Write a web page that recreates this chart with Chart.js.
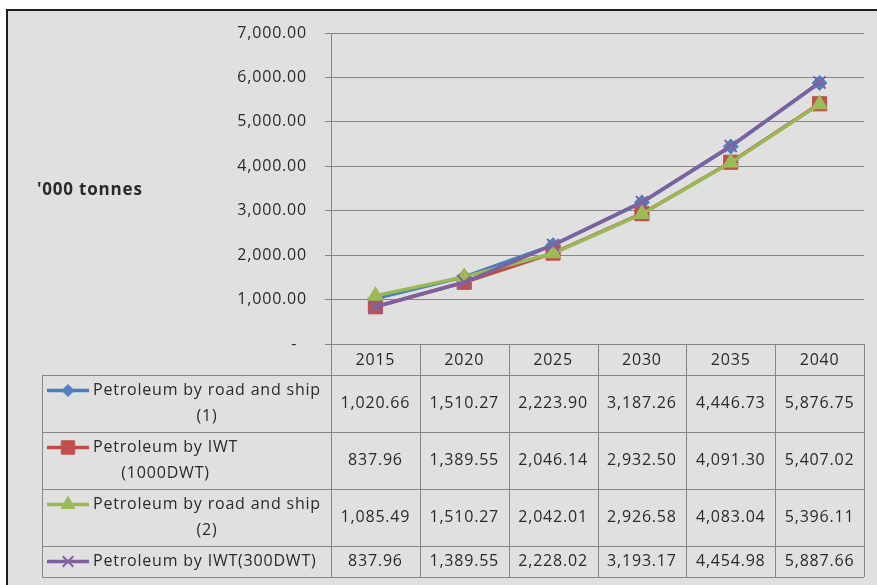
<!DOCTYPE html>
<html>
<head>
<meta charset="utf-8">
<script src="https://cdn.jsdelivr.net/npm/chart.js@4/dist/chart.umd.min.js"></script>
<style>
html,body{margin:0;padding:0;background:#fff;}
#wrap{width:877px;height:585px;position:relative;}
</style>
</head>
<body>
<div id="wrap"><canvas id="c" width="877" height="585"></canvas></div>
<script>
// ---- data ----
const years = ['2015', '2020', '2025', '2030', '2035', '2040'];
const roadShip1 = [1020.66, 1510.27, 2223.90, 3187.26, 4446.73, 5876.75];
const iwt1000   = [837.96, 1389.55, 2046.14, 2932.50, 4091.30, 5407.02];
const roadShip2 = [1085.49, 1510.27, 2042.01, 2926.58, 4083.04, 5396.11];
const iwt300    = [837.96, 1389.55, 2228.02, 3193.17, 4454.98, 5887.66];
const seriesLabels = [
  ['Petroleum by road and ship', '(1)'],
  ['Petroleum by IWT', '(1000DWT)'],
  ['Petroleum by road and ship', '(2)'],
  ['Petroleum by IWT(300DWT)']
];
const yMin = 0, yMax = 7000, yStep = 1000;
const axisTitle = "'000 tonnes";

// ---- styles ----
const FONT = '"Open Sans", "Noto Sans", sans-serif';
const TEXT = '#2a2a2a';
const GRID = '#868686';
const SPACING = '0.8px';
const styles = [
  {line: '#4A7EBB', fill: '#4F81BD', shape: 'rectRot', r: 7.5, kr: 6, bw: 1},
  {line: '#BE4B48', fill: '#C0504D', shape: 'rect', r: 10, kr: 9.5, bw: 1},
  {line: '#98B954', fill: '#9BBB59', shape: 'triangle', r: 9, kr: 8, bw: 1},
  {line: '#7D60A0', fill: '#8064A2', shape: 'crossRot', r: 8.5, kr: 7.5, bw: 2}
];
const seriesData = [roadShip1, iwt1000, roadShip2, iwt300];

function fmt(v) {
  return v.toLocaleString('en-US', {minimumFractionDigits: 2, maximumFractionDigits: 2});
}

function marker(ctx, shape, x, y, r, fill, bw) {
  ctx.save();
  ctx.fillStyle = fill; ctx.strokeStyle = fill; ctx.lineWidth = bw;
  ctx.beginPath();
  if (shape === 'rectRot') {
    ctx.moveTo(x - r, y); ctx.lineTo(x, y - r); ctx.lineTo(x + r, y); ctx.lineTo(x, y + r); ctx.closePath();
    ctx.fill(); ctx.stroke();
  } else if (shape === 'rect') {
    const s = Math.SQRT1_2 * r;
    ctx.rect(x - s, y - s, 2 * s, 2 * s); ctx.fill(); ctx.stroke();
  } else if (shape === 'triangle') {
    const a = 2 * Math.PI / 3;
    ctx.moveTo(x, y - r);
    ctx.lineTo(x + Math.sin(a) * r, y - Math.cos(a) * r);
    ctx.lineTo(x + Math.sin(2 * a) * r, y - Math.cos(2 * a) * r);
    ctx.closePath(); ctx.fill(); ctx.stroke();
  } else {
    const o = Math.SQRT1_2 * r;
    ctx.moveTo(x - o, y - o); ctx.lineTo(x + o, y + o);
    ctx.moveTo(x + o, y - o); ctx.lineTo(x - o, y + o);
    ctx.stroke();
  }
  ctx.restore();
}

const bgPlugin = {
  id: 'bg',
  beforeDraw(chart) {
    const ctx = chart.ctx;
    ctx.save();
    ctx.fillStyle = '#ffffff';
    ctx.fillRect(0, 0, chart.width, chart.height);
    ctx.fillStyle = '#e0e0e0';
    ctx.fillRect(6, 9, chart.width - 6, chart.height - 9);
    ctx.fillStyle = '#1e1e1e';
    ctx.fillRect(6, 9, 2, chart.height - 9);
    ctx.fillRect(6, 9, chart.width - 6, 2);
    ctx.restore();
    if ('letterSpacing' in ctx) ctx.letterSpacing = SPACING;
  }
};

const tablePlugin = {
  id: 'datatable',
  afterDraw(chart) {
    const ctx = chart.ctx;
    const xs = chart.scales.x;
    const area = chart.chartArea;
    const n = years.length;
    const cw = (area.right - area.left) / n;
    const top = area.bottom;
    const headerH = 31;
    const rowH = [57, 57, 57, 31];
    const legLeft = 42;
    const rowTops = [top + headerH];
    rowH.forEach((h, i) => rowTops.push(rowTops[i] + h));
    const bottom = rowTops[rowTops.length - 1];

    ctx.save();
    if ('letterSpacing' in ctx) ctx.letterSpacing = SPACING;
    ctx.strokeStyle = GRID;
    ctx.lineWidth = 1;
    ctx.beginPath();
    for (let i = 0; i <= n; i++) {
      const x = Math.round(area.left + i * cw) + 0.5;
      ctx.moveTo(x, top); ctx.lineTo(x, bottom);
    }
    rowTops.forEach(y => {
      const yy = Math.round(y) + 0.5;
      ctx.moveTo(legLeft, yy); ctx.lineTo(area.right, yy);
    });
    ctx.moveTo(legLeft + 0.5, rowTops[0]); ctx.lineTo(legLeft + 0.5, bottom);
    ctx.stroke();

    ctx.fillStyle = TEXT;
    ctx.font = '16px ' + FONT;
    ctx.textAlign = 'center';
    ctx.textBaseline = 'middle';
    years.forEach((yr, i) => {
      ctx.fillText(yr, xs.getPixelForValue(i), top + headerH / 2 + 1);
    });
    seriesData.forEach((arr, r) => {
      const cy = rowTops[r] + rowH[r] / 2;
      arr.forEach((v, i) => {
        ctx.fillText(fmt(v), xs.getPixelForValue(i), cy);
      });
      // legend key + label
      const lines = seriesLabels[r];
      const lineGap = 26;
      const firstY = lines.length > 1 ? cy - lineGap / 2 : cy;
      const st = styles[r];
      ctx.save();
      ctx.strokeStyle = st.line; ctx.lineWidth = 3.5;
      ctx.beginPath(); ctx.moveTo(47, firstY); ctx.lineTo(89, firstY); ctx.stroke();
      ctx.restore();
      marker(ctx, st.shape, 68, firstY, st.kr, st.fill, st.bw);
      let maxW = 0;
      lines.forEach(l => { maxW = Math.max(maxW, ctx.measureText(l).width); });
      const cx = 93 + maxW / 2;
      ctx.fillStyle = TEXT;
      lines.forEach((l, k) => ctx.fillText(l, cx, firstY + k * lineGap));
    });

    ctx.textAlign = 'left';
    ctx.font = 'bold 17px ' + FONT;
    ctx.fillText(axisTitle, 37, 190);
    ctx.restore();
  }
};

const datasets = seriesData.map((arr, i) => ({
  label: seriesLabels[i].join(' '),
  data: arr,
  borderColor: styles[i].line,
  backgroundColor: styles[i].fill,
  pointBackgroundColor: styles[i].fill,
  pointBorderColor: styles[i].fill,
  pointStyle: styles[i].shape,
  pointRadius: styles[i].r,
  pointBorderWidth: styles[i].bw,
  borderWidth: 3.5,
  tension: 0,
  fill: false,
  order: 3 - i
}));

new Chart(document.getElementById('c'), {
  type: 'line',
  data: {labels: years, datasets: datasets},
  options: {
    responsive: false,
    devicePixelRatio: 1,
    animation: false,
    layout: {padding: {left: 0, top: 33, right: 13, bottom: 241}},
    plugins: {legend: {display: false}, tooltip: {enabled: false}, title: {display: false}},
    scales: {
      x: {type: 'category', offset: true, display: false},
      y: {
        min: yMin, max: yMax,
        afterFit(s) { s.width = 331; },
        ticks: {
          stepSize: yStep,
          color: TEXT,
          font: {family: FONT, size: 16},
          padding: 18,
          callback: v => v === 0 ? '-  ' : fmt(v)
        },
        grid: {color: GRID, lineWidth: 1, tickLength: 6, drawTicks: true},
        border: {display: true, color: GRID, width: 1}
      }
    }
  },
  plugins: [bgPlugin, tablePlugin]
});
</script>
</body>
</html>
